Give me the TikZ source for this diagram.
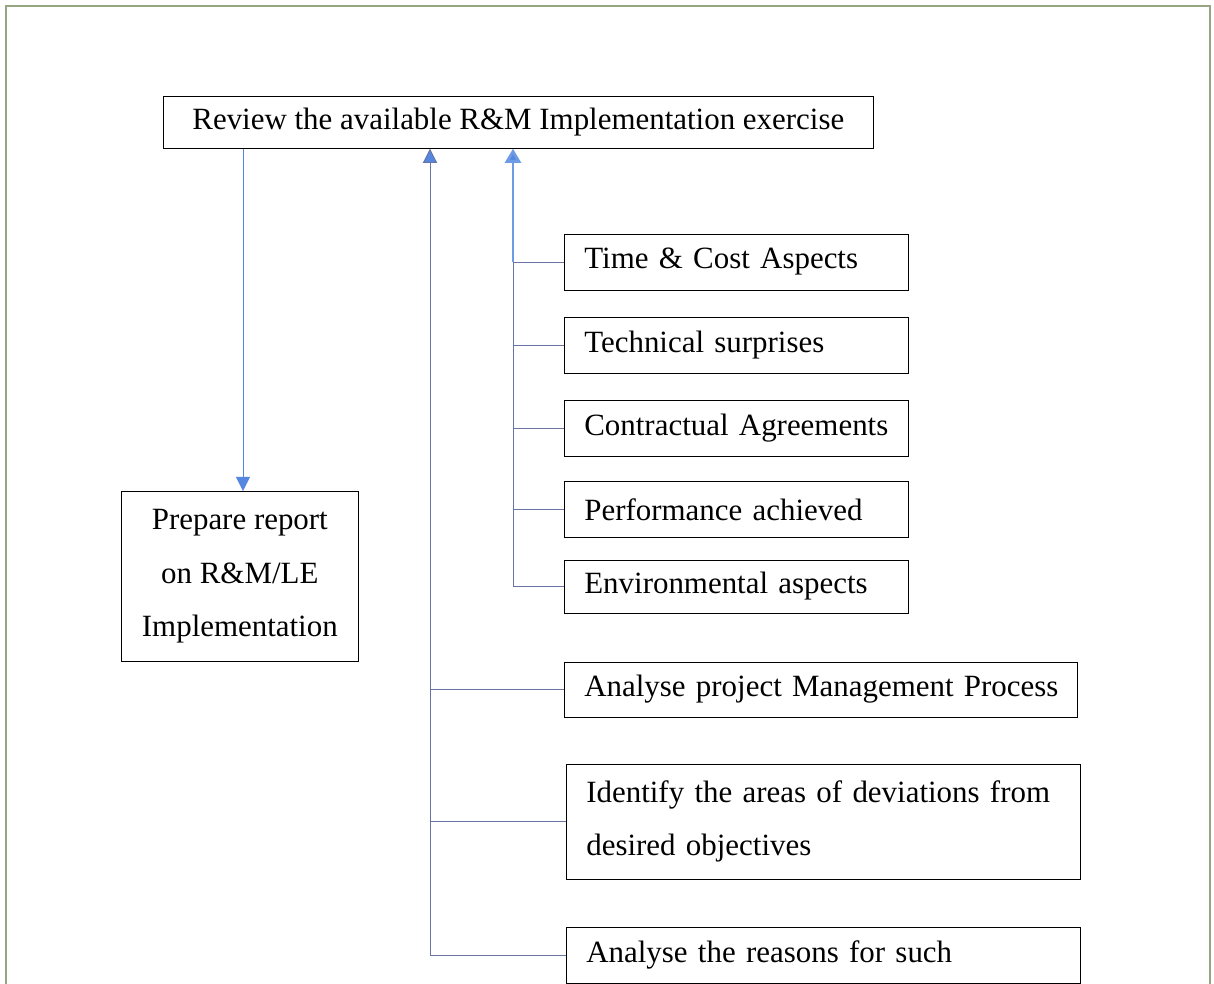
\documentclass[tikz,border=0pt]{standalone}
\usepackage{fontspec}
\setmainfont{Liberation Serif}
\usetikzlibrary{arrows.meta,positioning}
\definecolor{linec}{RGB}{105,115,165}
\definecolor{tipc}{RGB}{85,135,225}
\definecolor{thickc}{RGB}{110,155,230}
\definecolor{framec}{RGB}{150,165,130}

\begin{document}
\begin{tikzpicture}[
    x=0.02cm, y=-0.02cm,
    box/.style={draw, thin, fill=white, inner ysep=2pt,
                font=\fontsize{17.6}{30.5}\selectfont},
    itembox/.style={box, anchor=west, align=left, inner xsep=0.4cm,
                    minimum height=1.12cm},
    conn/.style={linec, line width=0.5pt},
    arr/.style={conn, -{Triangle[length=8pt, width=8pt, fill=tipc]}},
  ]
    \useasboundingbox (0,0) rectangle (1214,984);
    % outer frame
    \draw[framec, line width=1pt] (6,984) -- (6,6) -- (1210,6) -- (1210,984);

    % top box and report
    \node[box, anchor=north west, minimum width=14.2cm, minimum height=1.04cm]
      (review) at (163,96) {Review the available R\&M Implementation exercise};
    \node[box, anchor=north west, minimum width=4.74cm, minimum height=3.4cm,
          align=center]
      (report) at (121,491) {Prepare report\\on R\&M/LE\\Implementation};

    % aspects to check
    \node[itembox, text width=6.08cm] (time) at (564,262) {\mbox{Time \& Cost Aspects}};
    \node[itembox, text width=6.08cm] (tech) at (564,345.5) {\mbox{Technical surprises}};
    \node[itembox, text width=6.08cm] (contract) at (564,428) {\mbox{Contractual Agreements}};
    \node[itembox, text width=6.08cm] (perf) at (564,509.5) {\mbox{Performance achieved}};
    \node[itembox, text width=6.08cm, minimum height=1.06cm]
      (env) at (564,586.5) {\mbox{Environmental aspects}};

    % analysis steps
    \node[itembox, text width=9.46cm, minimum height=1.1cm]
      (mgmt) at (564,689.5) {\mbox{Analyse project Management Process}};
    \node[itembox, text width=9.48cm, minimum height=2.3cm]
      (deviate) at (566,821.5) {\mbox{Identify the areas of deviations from}\\desired objectives};
    \node[itembox, text width=9.48cm] (reason) at (566,955) {\mbox{Analyse the reasons for such}};

    % trunk points under the top box
    \coordinate (rtop) at (review.south -| 513,0);
    \coordinate (ltop) at (review.south -| 430,0);
    \coordinate (rep) at (review.south -| 243,0);

    % review -> report
    \draw[arr, tipc] (rep) -- (rep |- report.north);

    % right trunk
    \draw[conn] (env.west) -| (time.west -| rtop);
    \foreach \n in {tech,contract,perf}
      \draw[conn] (\n.west) -- (\n.west -| rtop);
    \draw[conn] (time.west) -- (time.west -| rtop);
    \draw[thickc, line width=1.6pt, -{Triangle[length=8pt, width=9pt, fill=tipc]}]
      (time.west -| rtop) -- (rtop);

    % left trunk
    \draw[arr] (reason.west) -| (ltop);
    \foreach \n in {mgmt,deviate}
      \draw[conn] (\n.west) -- (\n.west -| ltop);
  \end{tikzpicture}
\end{document}
